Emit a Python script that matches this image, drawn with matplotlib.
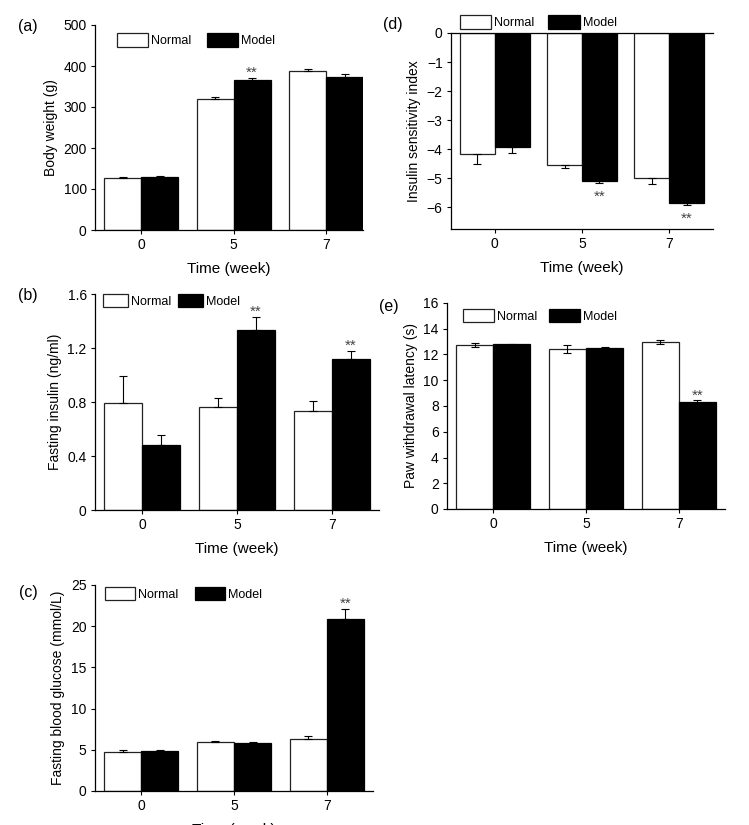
import numpy as np
import matplotlib
matplotlib.use("Agg")
import matplotlib.pyplot as plt
from matplotlib.ticker import FuncFormatter

plt.rcParams['font.family'] = ['Liberation Sans', 'DejaVu Sans']

# ---------------- data ----------------
weeks = ['0', '5', '7']
series_names = ['Normal', 'Model']

bw_normal = [126, 319, 387]
bw_normal_err = [4, 6, 6.5]
bw_model = [129, 367, 374]
bw_model_err = [2.5, 4, 6.5]
bw_sig = [False, True, False]

ins_normal = [0.79, 0.765, 0.735]
ins_normal_err = [0.205, 0.062, 0.075]
ins_model = [0.48, 1.333, 1.116]
ins_model_err = [0.075, 0.094, 0.062]
ins_sig = [False, True, True]

glu_normal = [4.77, 5.9, 6.3]
glu_normal_err = [0.25, 0.17, 0.36]
glu_model = [4.9, 5.85, 20.87]
glu_model_err = [0.1, 0.12, 1.22]
glu_sig = [False, False, True]

isi_normal = [-4.18, -4.55, -5.0]
isi_normal_err = [0.32, 0.09, 0.2]
isi_model = [-3.94, -5.08, -5.84]
isi_model_err = [0.19, 0.09, 0.08]
isi_sig = [False, True, True]

pwl_normal = [12.74, 12.43, 12.97]
pwl_normal_err = [0.13, 0.3, 0.17]
pwl_model = [12.79, 12.5, 8.33]
pwl_model_err = [0.05, 0.05, 0.1]
pwl_sig = [False, False, True]

# ---------------- layout helpers ----------------
W, H = 749, 825
fig = plt.figure(figsize=(W / 100, H / 100), dpi=100)


def px_axes(left, top, right, bottom):
    return fig.add_axes([left / W, 1 - bottom / H, (right - left) / W, (bottom - top) / H])


def panel(ax, normal, normal_err, model, model_err, sig, ylim, yticks, ylabel,
          xlim, mode, leg_anchor, leg_kw):
    idx = np.arange(len(weeks))
    bw = 0.4
    bn = ax.bar(idx - bw / 2, normal, bw, color='white', edgecolor='#222222',
                linewidth=0.9, label=series_names[0], zorder=1)
    bm = ax.bar(idx + bw / 2, model, bw, color='black', edgecolor='black',
                linewidth=0.9, label=series_names[1], zorder=1)
    z = np.zeros(len(weeks))
    for xs, vals, err in ((idx - bw / 2, normal, normal_err), (idx + bw / 2, model, model_err)):
        err = np.asarray(err)
        if mode == 'up':
            yerr = [z, err]
        elif mode == 'down':
            yerr = [err, z]
        else:
            yerr = [err, err]
        ax.errorbar(xs, vals, yerr=yerr, fmt='none', ecolor='black',
                    elinewidth=0.8, capsize=2.6, capthick=0.8, zorder=2)
    for i, s in enumerate(sig):
        if not s:
            continue
        if mode == 'down':
            ax.annotate('**', xy=(idx[i] + bw / 2, model[i] - model_err[i]),
                        xytext=(0, -13), textcoords='offset points',
                        ha='center', va='baseline', fontsize=11, color='#444444')
        else:
            ax.annotate('**', xy=(idx[i] + bw / 2, model[i] + model_err[i]),
                        xytext=(0, 0.8), textcoords='offset points',
                        ha='center', va='baseline', fontsize=11, color='#444444')
    ax.set_xlim(*xlim)
    ax.set_ylim(*ylim)
    ax.set_xticks(idx)
    ax.set_xticklabels(weeks)
    ax.set_yticks(yticks)
    ax.yaxis.set_major_formatter(FuncFormatter(lambda v, p: '%g' % v if v >= 0 else '\u2212%g' % (-v)))
    ax.tick_params(direction='out', length=3, width=0.8, labelsize=10, pad=3)
    ax.set_ylabel(ylabel, fontsize=10, labelpad=4)
    ax.set_xlabel('Time (week)', fontsize=11, labelpad=7)
    for sp in ('left', 'bottom', 'top', 'right'):
        ax.spines[sp].set_linewidth(0.9)
    ax.spines['right'].set_visible(False)
    if mode != 'down':
        ax.spines['top'].set_visible(False)
    ax.legend(handles=[bn, bm], loc='upper left', bbox_to_anchor=leg_anchor,
              frameon=False, ncol=2, fontsize=9, borderpad=0, borderaxespad=0,
              handletextpad=0.25, **leg_kw)
    return ax


# (a)
ax_a = px_axes(95, 25, 363, 230)
panel(ax_a, bw_normal, bw_normal_err, bw_model, bw_model_err, bw_sig,
      (0, 500), [0, 100, 200, 300, 400, 500], 'Body weight (g)', (-0.5, 2.4), 'up',
      (0.082, 0.961), dict(handlelength=2.5, handleheight=1.4, columnspacing=1.2))

# (b)
ax_b = px_axes(95, 294, 379, 510)
panel(ax_b, ins_normal, ins_normal_err, ins_model, ins_model_err, ins_sig,
      (0, 1.6), [0, 0.4, 0.8, 1.2, 1.6], 'Fasting insulin (ng/ml)', (-0.5, 2.5), 'up',
      (0.028, 1.0), dict(handlelength=2.0, handleheight=1.2, columnspacing=0.5))

# (c)
ax_c = px_axes(95, 585, 373, 791)
panel(ax_c, glu_normal, glu_normal_err, glu_model, glu_model_err, glu_sig,
      (0, 25), [0, 5, 10, 15, 20, 25], 'Fasting blood glucose (mmol/L)', (-0.5, 2.5), 'up',
      (0.036, 0.99), dict(handlelength=2.4, handleheight=1.2, columnspacing=1.35))

# (d)
ax_d = px_axes(451, 33, 713, 229)
panel(ax_d, isi_normal, isi_normal_err, isi_model, isi_model_err, isi_sig,
      (-6.75, 0), [0, -1, -2, -3, -4, -5, -6], 'Insulin sensitivity index', (-0.5, 2.5), 'down',
      (0.034, 1.092), dict(handlelength=2.5, handleheight=1.3, columnspacing=1.1))

# (e)
ax_e = px_axes(447, 303, 725, 509)
panel(ax_e, pwl_normal, pwl_normal_err, pwl_model, pwl_model_err, pwl_sig,
      (0, 16), [0, 2, 4, 6, 8, 10, 12, 14, 16], 'Paw withdrawal latency (s)', (-0.5, 2.5), 'both',
      (0.058, 0.971), dict(handlelength=2.5, handleheight=1.2, columnspacing=0.9))

# panel letters
for lbl, (x, y) in {'(a)': (28, 27), '(b)': (28, 295), '(c)': (28, 593),
                    '(d)': (393, 25), '(e)': (389, 306)}.items():
    fig.text(x / W, 1 - y / H, lbl, ha='center', va='center', fontsize=11.5)

fig.savefig('out.png', dpi=100)
